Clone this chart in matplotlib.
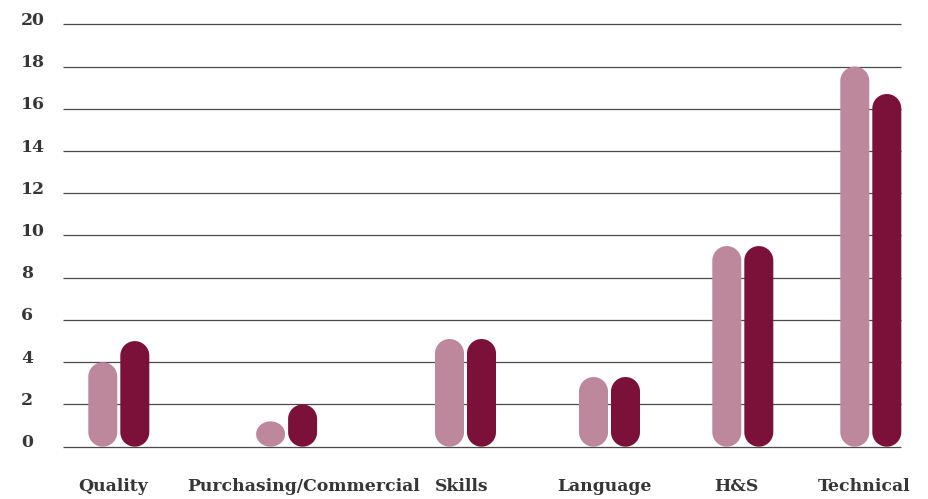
import numpy as np
import matplotlib.pyplot as plt
from matplotlib.patches import Polygon
from matplotlib.transforms import offset_copy

categories = ['Quality', 'Purchasing/Commercial', 'Skills', 'Language', 'H&S', 'Technical']
values_light = [4, 1.2, 5.1, 3.3, 9.5, 18]
values_dark = [5, 2, 5.1, 3.3, 9.5, 16.7]
y_ticks = [0, 2, 4, 6, 8, 10, 12, 14, 16, 18, 20]

# horizontal layout, in pixels along the x axis
group_x = [118.8, 286.6, 465.5, 609.5, 742.8, 870.8]
label_x = [112.8, 303.7, 461.7, 604.5, 736.3, 864.2]
bar_w = 29
gap = 3

light = '#bd889b'
dark = '#7b1139'
text_col = '#363636'
font = dict(family='DejaVu Serif', weight='bold', size=12.4, color=text_col)

W, H = 929, 499
fig = plt.figure(figsize=(W / 100, H / 100), dpi=100)
ax = fig.add_axes([63 / W, (H - 446.7) / H, 838 / W, 422.4 / H])
ax.set_xlim(63, 901)
ax.set_ylim(0, 20)
ax.axis('off')

ppu = 422.4 / 20  # pixels per y unit

ax.hlines(y_ticks, 63, 901, color='#4a4a4a', lw=0.9, zorder=1, clip_on=False)

def capsule(x0, h, color):
    # pill shape: round caps at both ends, built in pixel units then
    # squeezed back to data units on the y axis
    hp = h * ppu
    r = min(bar_w / 2, hp / 2)
    cx = x0 + bar_w / 2
    t = np.linspace(0, np.pi, 40)
    top_x = cx + (bar_w / 2) * np.cos(t)
    top_y = hp - r + r * np.sin(t)
    bot_x = cx - (bar_w / 2) * np.cos(t)
    bot_y = r - r * np.sin(t)
    xs = np.concatenate([top_x, bot_x])
    ys = np.concatenate([top_y, bot_y]) / ppu
    ax.add_patch(Polygon(np.column_stack([xs, ys]), closed=True, fc=color,
                         ec='none', clip_on=False, zorder=2))

for cx, a, b in zip(group_x, values_light, values_dark):
    capsule(cx - gap / 2 - bar_w, a, light)
    capsule(cx + gap / 2, b, dark)

tick_tr = offset_copy(ax.transData, fig=fig, y=4, units='dots')
for v in y_ticks:
    ax.text(21, v, str(v), ha='left', va='center', transform=tick_tr,
            clip_on=False, **font)

lab_tr = offset_copy(ax.transData, fig=fig, y=-44, units='dots')
for lx, name in zip(label_x, categories):
    ax.text(lx, 0, name, ha='center', va='baseline', transform=lab_tr,
            clip_on=False, **font)

fig.savefig('out.png', dpi=100)
